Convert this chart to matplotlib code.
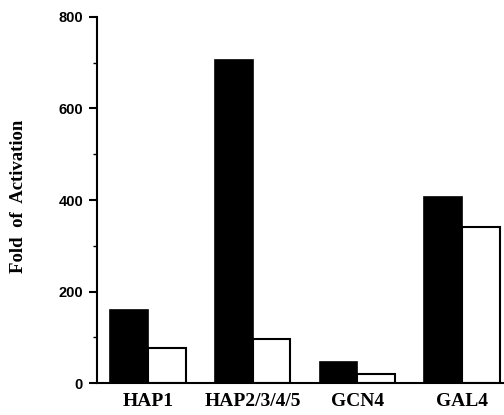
import matplotlib.pyplot as plt
import numpy as np

categories = ['HAP1', 'HAP2/3/4/5', 'GCN4', 'GAL4']
black_vals = [160, 706, 46, 406]
white_vals = [77, 96, 20, 341]
yticks = [0, 200, 400, 600, 800]

serif = ['Liberation Serif', 'DejaVu Serif']
sans = ['Liberation Sans', 'DejaVu Sans']

fig = plt.figure(figsize=(5.04, 4.15), dpi=100)
ax = fig.add_axes([97 / 504, 1 - 383 / 415, 1 - 97 / 504, 366 / 415])

x = np.arange(len(categories))
w = 0.36
ax.bar(x - w / 2, black_vals, w, color='black', edgecolor='black', linewidth=1.2)
ax.bar(x + w / 2, white_vals, w, color='white', edgecolor='black', linewidth=1.5)

ax.set_xlim(-0.487, 3.40)
ax.set_ylim(0, 800)
ax.spines['top'].set_visible(False)
ax.spines['right'].set_visible(False)
ax.spines['left'].set_linewidth(1.5)
ax.spines['bottom'].set_linewidth(1.5)

ax.set_yticks(yticks)
ax.set_yticklabels([str(v) for v in yticks], fontfamily=sans, fontweight='bold', fontsize=10.5)
ax.set_yticks([100, 300, 500, 700], minor=True)
ax.tick_params(axis='y', which='major', length=6, width=1.5, pad=4)
ax.tick_params(axis='y', which='minor', length=3, width=1)

ax.set_xticks(x)
ax.set_xticklabels(categories, fontfamily=serif, fontweight='bold', fontsize=14)
ax.tick_params(axis='x', length=0, pad=7)

fig.text(0.036, 1 - 196 / 415, 'Fold  of  Activation', rotation=90, ha='center', va='center',
         fontfamily=serif, fontweight='bold', fontsize=13.5)

fig.savefig('out.png', dpi=100)
